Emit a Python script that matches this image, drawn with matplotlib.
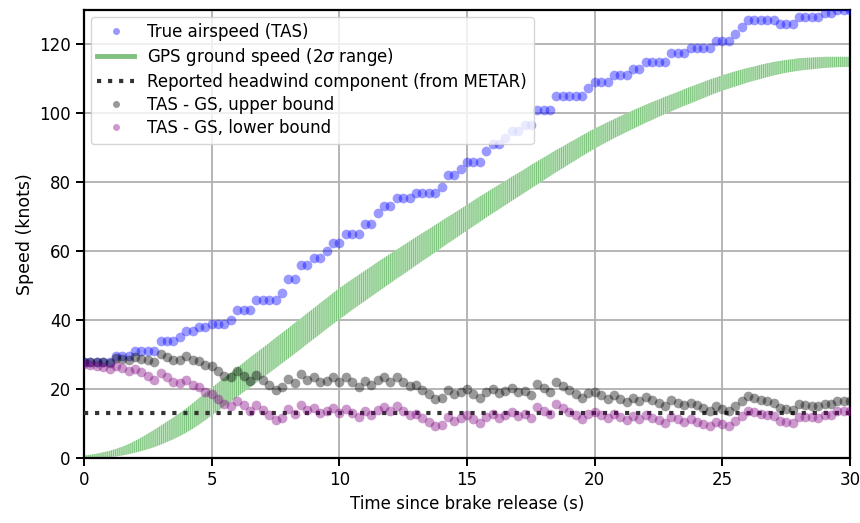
import numpy as np
import matplotlib
matplotlib.use("Agg")
import matplotlib.pyplot as plt
from matplotlib.lines import Line2D

# sample times, every 0.25 s
time_s = np.arange(121) * 0.25

# true airspeed, knots (one row per second)
tas = [
    28, 28, 28, 28,
    28, 29.5, 29.5, 29.5,
    31, 31, 31, 31,
    34, 34, 34, 35,
    37, 37, 38, 38,
    39, 39, 39, 40,
    43, 43, 43, 46,
    46, 46, 46, 48,
    52, 52, 56, 56,
    58, 58, 60, 62.5,
    62.5, 65, 65, 65,
    68, 68, 71, 73,
    73, 75.5, 75.5, 75.5,
    77, 77, 77, 77,
    78.5, 82, 82, 84,
    86, 86, 86, 89,
    91, 91, 93, 95,
    95, 96.5, 96.5, 101,
    101, 101, 105, 105,
    105, 105, 105, 107.5,
    109, 109, 109, 111,
    111, 111, 113, 113,
    115, 115, 115, 115,
    117.5, 117.5, 117.5, 119,
    119, 119, 119, 121,
    121, 121, 123, 125,
    127, 127, 127, 127,
    127, 126, 126, 126,
    128, 128, 128, 128,
    129, 129, 130, 130,
    130,
]

# GPS ground speed, lower and upper edge of the 2 sigma range, knots
gs_low = [
    0.0, 0.02, 0.08, 0.17,
    0.3, 0.5, 0.8, 1.15,
    1.6, 2.1, 2.6, 3.2,
    3.9, 4.7, 5.5, 6.4,
    7.4, 8.5, 9.7, 11.0,
    12.4, 13.7, 15.1, 16.4,
    17.8, 19.2, 20.5, 21.9,
    23.3, 24.7, 26.1, 27.5,
    28.9, 30.3, 31.7, 33.2,
    34.6, 36.0, 37.5, 38.9,
    40.3, 41.6, 43.0, 44.3,
    45.6, 46.9, 48.2, 49.5,
    50.8, 52.1, 53.3, 54.6,
    55.9, 57.2, 58.4, 59.7,
    61.0, 62.3, 63.5, 64.8,
    66.0, 67.3, 68.5, 69.8,
    71.0, 72.2, 73.4, 74.6,
    75.8, 77.0, 78.2, 79.4,
    80.6, 81.8, 83.0, 84.1,
    85.3, 86.4, 87.6, 88.7,
    89.8, 90.8, 91.8, 92.8,
    93.7, 94.6, 95.5, 96.4,
    97.3, 98.1, 99.0, 99.8,
    100.6, 101.4, 102.2, 102.9,
    103.7, 104.4, 105.2, 105.9,
    106.6, 107.2, 107.8, 108.4,
    109.0, 109.5, 110.0, 110.5,
    111.0, 111.4, 111.8, 112.1,
    112.4, 112.6, 112.8, 113.0,
    113.2, 113.3, 113.4, 113.45,
    113.5,
]
gs_high = [
    0.8, 1.0, 1.3, 1.7,
    2.1, 2.7, 3.3, 4.1,
    5.0, 6.0, 7.1, 8.2,
    9.4, 10.6, 11.8, 13.1,
    14.4, 15.9, 17.4, 18.9,
    20.4, 21.9, 23.4, 24.8,
    26.3, 27.7, 29.2, 30.6,
    32.0, 33.4, 34.9, 36.3,
    37.7, 39.2, 40.6, 42.1,
    43.5, 45.0, 46.4, 47.9,
    49.3, 50.6, 51.9, 53.1,
    54.4, 55.6, 56.9, 58.1,
    59.3, 60.5, 61.7, 62.9,
    64.1, 65.3, 66.4, 67.6,
    68.8, 70.0, 71.1, 72.3,
    73.5, 74.7, 75.9, 77.0,
    78.2, 79.3, 80.4, 81.6,
    82.7, 83.8, 85.0, 86.1,
    87.2, 88.3, 89.4, 90.4,
    91.5, 92.5, 93.6, 94.6,
    95.6, 96.5, 97.4, 98.3,
    99.2, 100.0, 100.9, 101.7,
    102.5, 103.3, 104.0, 104.8,
    105.5, 106.2, 107.0, 107.7,
    108.4, 109.1, 109.8, 110.4,
    111.1, 111.6, 112.2, 112.7,
    113.2, 113.6, 114.1, 114.5,
    114.9, 115.2, 115.5, 115.7,
    116.0, 116.1, 116.2, 116.3,
    116.4, 116.4, 116.4, 116.4,
    116.4,
]

headwind_metar = 13  # knots

tas = np.array(tas)
gs_low = np.array(gs_low)
gs_high = np.array(gs_high)
diff_upper = tas - gs_low
diff_lower = tas - gs_high

plt.rcParams["hatch.linewidth"] = 0.7
fig, ax = plt.subplots(figsize=(8.6, 5.23), dpi=100)
fig.subplots_adjust(left=0.0977, right=0.9885, top=0.981, bottom=0.124)

mk = dict(ls="none", marker="o", alpha=0.4, ms=7, mew=0)
ax.plot(time_s, tas, color="blue", zorder=3, **mk)
ax.fill_between(time_s, gs_low, gs_high, facecolor="#bfe4bf", edgecolor="#7cc47c",
                hatch="|" * 8, linewidth=0, zorder=2)
ax.axhline(headwind_metar, color="#333333", ls=":", lw=3, zorder=4)
ax.plot(time_s, diff_upper, color="black", zorder=5, **mk)
ax.plot(time_s, diff_lower, color="purple", zorder=5, **mk)

small = dict(ls="none", marker="o", alpha=0.4, ms=5, mew=0)
handles = [
    Line2D([], [], color="blue", **small),
    Line2D([], [], color="green", alpha=0.5, lw=3.5),
    Line2D([], [], color="#333333", ls=":", lw=3),
    Line2D([], [], color="black", **small),
    Line2D([], [], color="purple", **small),
]
labels = [
    "True airspeed (TAS)",
    r"GPS ground speed (2$\sigma$ range)",
    "Reported headwind component (from METAR)",
    "TAS - GS, upper bound",
    "TAS - GS, lower bound",
]
ax.legend(handles, labels, loc="upper left", fontsize=12, borderaxespad=0.4,
          labelspacing=0.3, handlelength=2.2)

ax.set_xlim(0, 30)
ax.set_ylim(0, 130)
ax.set_xticks(np.arange(0, 31, 5))
ax.set_yticks(np.arange(0, 121, 20))
ax.grid(True, color="#b0b0b0", lw=1.3, zorder=0)
ax.set_axisbelow(True)
ax.tick_params(direction="out", length=6, width=1.4, labelsize=12)
for sp in ax.spines.values():
    sp.set_linewidth(1.6)
ax.set_xlabel("Time since brake release (s)", fontsize=12)
ax.set_ylabel("Speed (knots)", fontsize=12.5)

fig.savefig("out.png", dpi=100)
